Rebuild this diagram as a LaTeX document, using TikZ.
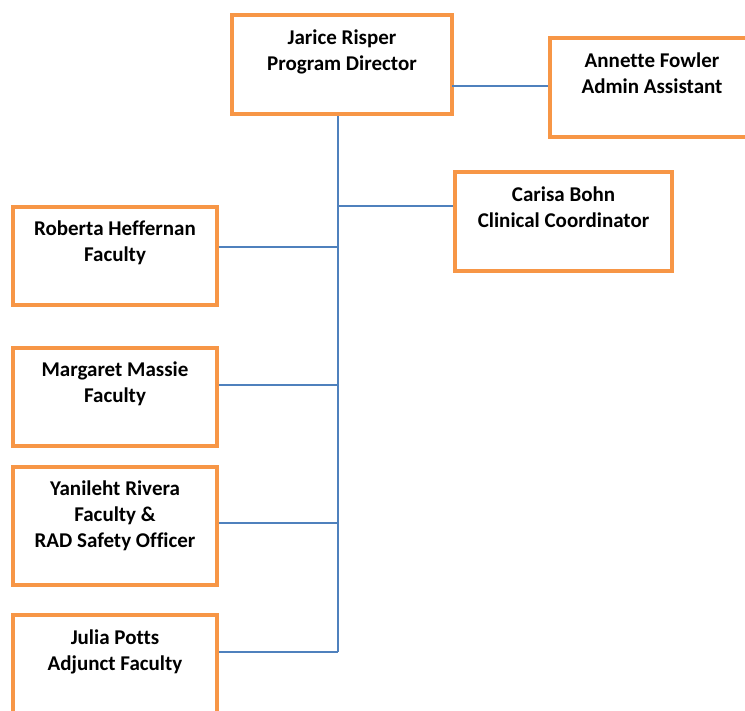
\documentclass[tikz,border=0pt]{standalone}
\usepackage{fontspec}
\setmainfont[Ligatures=NoCommon]{Carlito}
\usetikzlibrary{positioning}
\usetikzlibrary{calc}

\definecolor{boxorange}{HTML}{F79646}
\definecolor{lineblue}{HTML}{4F81BD}

\begin{document}
\begin{tikzpicture}[
            x = 1pt, y = -1pt, % pixel-like units, y downwards
            line join = miter,
            semithick % line style
            ]

        \tikzstyle{person}=[
            draw = boxorange,
            line width = 3.6pt,
            fill = white,
            rectangle,
            align = center,
            inner sep = 0pt,
            font = \fontsize{21}{26}\selectfont\bfseries
        ]
        \tikzstyle{link}=[
            draw = lineblue,
            line width = 1.1pt
        ]

        \useasboundingbox (0,0) rectangle (745,711);

	% director level
	\node[person, minimum width = 220pt, minimum height = 99pt] (Jarice) at (342,64.5) {Jarice Risper\\Program Director\\[3pt]~};
	\node[person, minimum width = 204pt, minimum height = 99pt] (Annette) at (652,87.5) {Annette Fowler\\Admin Assistant\\[3pt]~};
	\node[person, minimum width = 217pt, minimum height = 99pt] (Carisa) at (563.5,221.5) {Carisa Bohn\\Clinical Coordinator\\[3pt]~};

        % faculty
	\node[person, minimum width = 204pt, minimum height = 98pt] (Roberta) at (115,256) {Roberta Heffernan\\Faculty\\[3pt]~};
	\node[person, minimum width = 204pt, minimum height = 98pt] (Margaret) at (115,397) {Margaret Massie\\Faculty\\[3pt]~};
	\node[person, minimum width = 204pt, minimum height = 118pt] (Yanileht) at (115,526) {Yanileht Rivera\\Faculty \&\\RAD Safety Officer\\[-3pt]~};
	\node[person, minimum width = 204pt, minimum height = 100pt] (Julia) at (115,665) {Julia Potts\\Adjunct Faculty\\[3pt]~};

        % junctions on the spine
        \coordinate (spine) at (338,652);
        \coordinate (jAnnette) at (452,86);
        \coordinate (jCarisa) at (338,206);
        \coordinate (jRoberta) at (338,247);
        \coordinate (jMargaret) at (338,385);
        \coordinate (jYanileht) at (338,523);

        % connectors
         \path[link] (Jarice.south -| spine) -- (spine);
         \path[link] (jAnnette) -- (Annette.west |- jAnnette);
         \path[link] (jCarisa) -- (Carisa.west |- jCarisa);
         \path[link] (Roberta.east |- jRoberta) -- (jRoberta);
         \path[link] (Margaret.east |- jMargaret) -- (jMargaret);
         \path[link] (Yanileht.east |- jYanileht) -- (jYanileht);
         \path[link] (Julia.east |- spine) -- (spine);

  \end{tikzpicture}
\end{document}
